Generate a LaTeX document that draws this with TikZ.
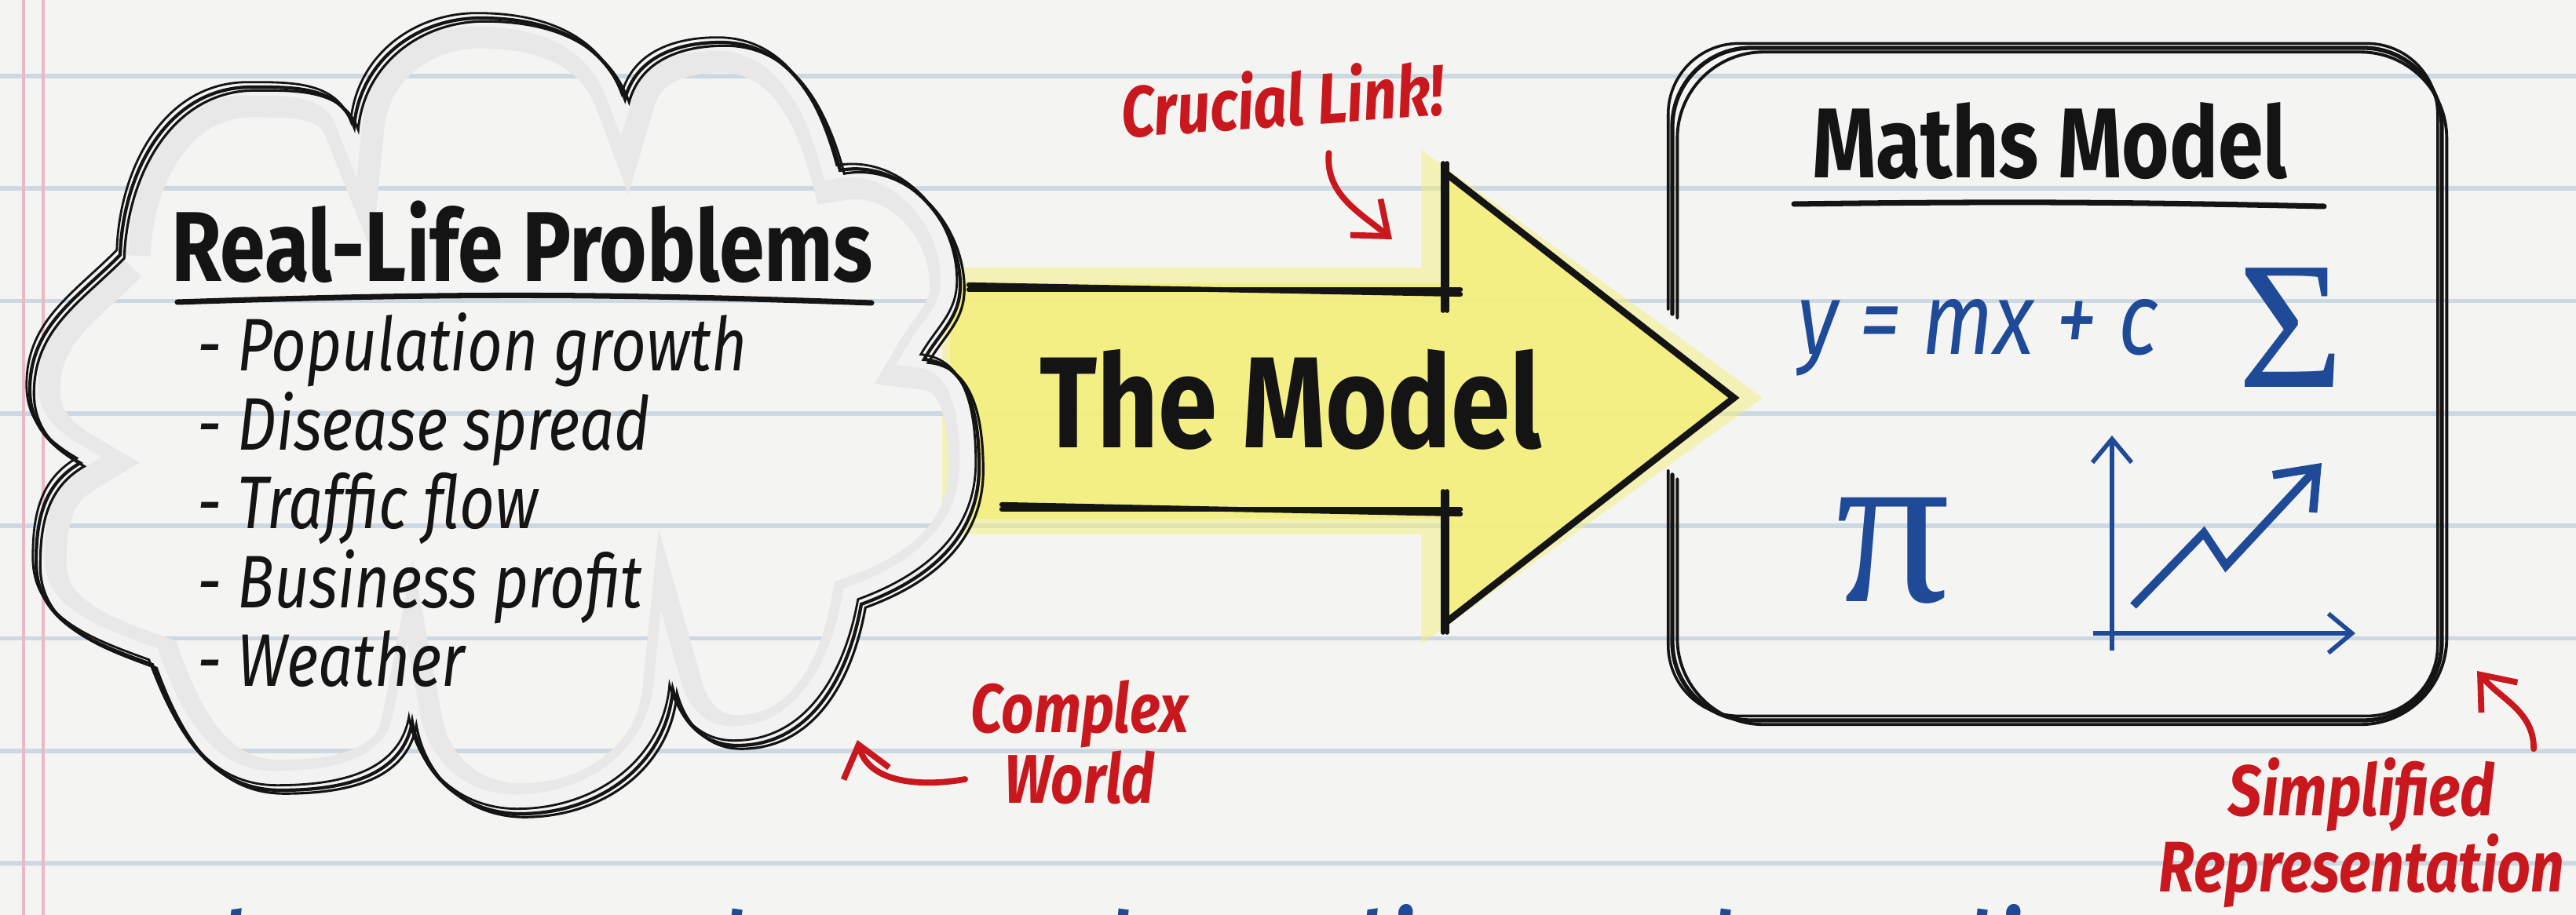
\documentclass[tikz,border=0pt]{standalone}
\usepackage{fontspec}
\setmainfont{Fira Sans}
\newfontfamily\hand[FakeStretch=0.82]{Fira Sans}
\newfontfamily\symfont{Liberation Serif}
\usepackage{tikz}
\usetikzlibrary{arrows.meta,positioning,calc}
\definecolor{paper}{HTML}{F4F4F2}
\definecolor{rule}{HTML}{CCD8E2}
\definecolor{margin}{HTML}{EBB9C6}
\definecolor{ink}{HTML}{141414}
\definecolor{mred}{HTML}{C9171E}
\definecolor{mblue}{HTML}{1E4A98}
\definecolor{marker}{HTML}{F3EF7C}
\newcommand{\cloudpath}{(1.53,8.41)
  to[out=88,in=180] (3.20,10.55) to[out=0,in=110] (4.51,10.05)
  to[out=85,in=180] (6.12,11.43) to[out=0,in=110] (7.96,10.40)
  to[out=75,in=180] (9.18,11.12) to[out=0,in=105] (10.70,9.49)
  to[out=10,in=90] (12.23,8.02) to[out=-90,in=60] (11.77,7.08)
  to[out=-5,in=90] (12.47,5.70) to[out=-90,in=20] (10.97,3.96)
  to[out=-100,in=0] (9.39,2.16) to[out=180,in=-75] (8.57,2.87)
  to[out=-95,in=0] (6.63,1.29) to[out=180,in=-80] (5.25,2.46)
  to[out=-100,in=0] (3.57,1.59) to[out=180,in=-70] (1.94,3.19)
  to[out=160,in=-90] (0.46,4.49) to[out=90,in=210] (1.02,5.76)
  to[out=150,in=-90] (0.38,6.69) to[out=90,in=225] (1.53,8.41)}
\newcommand{\boxpath}{(21.30,7.66) |- (31.10,11.05) |- (21.30,2.48) -- (21.30,5.61)}

\begin{document}
\begin{tikzpicture}[
  ruled/.style={line width=1.6pt,rule},
  sketch/.style={line width=1.2pt,ink,line cap=round},
  heading/.style={font=\hand\bfseries\fontsize{36}{40}\selectfont,text=ink},
  item/.style={font=\hand\itshape\fontsize{27}{30}\selectfont,text=ink,anchor=west,
    inner sep=0pt,text height=0.66cm,text depth=0.2cm},
  note/.style={font=\hand\bfseries\itshape\fontsize{26}{26}\selectfont,text=mred,align=center},
  pointer/.style={mred,line width=2.2pt,line cap=round,-{Straight Barb[length=3.8mm,width=6mm]}},
  maths/.style={text=mblue,inner sep=0pt},
  axis/.style={mblue,line width=1.6pt,-{Straight Barb[length=3mm,width=5mm]}}
]
\useasboundingbox (0,0) rectangle (32.81,11.66);
\clip (0,0) rectangle (32.81,11.66);
\fill[paper] (0,0) rectangle (32.81,11.66);

% ruled sheet
\foreach \k in {0,...,7}
  \draw[ruled] (0,{10.69-1.433*\k}) -- (32.81,{10.69-1.433*\k});
\draw[margin,line width=1.2pt] (0.30,0) -- (0.30,11.66);
\draw[margin,line width=1.2pt] (0.55,0) -- (0.55,11.66);

% highlighter arrow
\coordinate (shaftTL) at (12.34,7.97);
\coordinate (shaftBL) at (12.76,5.17);
\coordinate (backT) at (18.38,9.46);
\coordinate (backB) at (18.38,3.72);
\coordinate (tip) at (22.06,6.59);
\fill[marker,opacity=0.5] (12.0,8.25) -- (18.1,8.25) -- (18.1,9.75) -- (22.45,6.59)
  -- (18.1,3.45) -- (18.1,4.85) -- (12.0,4.85) -- cycle;
\fill[marker,opacity=0.85] (12.1,8.05) -- (18.38,8.05) -- (backT) -- (tip)
  -- (backB) -- (18.38,5.05) -- (12.1,5.05) -- cycle;

% cloud with its grey shadow
\begin{scope}
  \clip \cloudpath;
  \draw[line width=22pt,black!9] \cloudpath;
  \draw[line width=10pt,black!5,xshift=-2pt,yshift=2pt] \cloudpath;
\end{scope}
\draw[sketch] \cloudpath;
\draw[sketch,line width=0.9pt,xshift=1.5pt,yshift=-1.2pt] \cloudpath;
\draw[sketch,line width=0.8pt,xshift=-1.2pt,yshift=1.8pt] \cloudpath;

% arrow outline, doubled strokes
\foreach \dy in {0,0.06}{
  \draw[sketch,line width=1.8pt] ($(shaftTL)+(0,\dy)$) -- ($(18.60,7.97)+(0,-\dy)$);
  \draw[sketch,line width=1.8pt] ($(shaftBL)+(0,\dy)$) -- ($(18.60,5.17)+(0,-\dy)$);
}
\foreach \dx in {0,0.05}{
  \draw[sketch,line width=1.6pt] ($(backT)+(\dx,0.12)$) -- ($(18.38,7.70)+(\dx,0)$);
  \draw[sketch,line width=1.6pt] ($(backB)+(\dx,-0.12)$) -- ($(18.38,5.40)+(\dx,0)$);
  \draw[sketch,line width=1.6pt] ($(backT)+(\dx,0)$) -- ($(tip)+(\dx,0)$) -- ($(backB)+(\dx,0)$);
}

% maths box
\draw[sketch,line width=1.5pt,rounded corners=1cm] \boxpath;
\draw[sketch,line width=1.1pt,rounded corners=1.1cm,xshift=1.8pt,yshift=-1.5pt] \boxpath;
\draw[sketch,line width=1pt,rounded corners=0.9cm,xshift=-1.5pt,yshift=1.6pt] \boxpath;

% cloud text
\node[heading] (rl) at (6.65,8.58) {Real-Life Problems};
\draw[sketch,line width=2pt] (2.26,7.81) to[bend left=2] (11.10,7.80);
\node[item] (pop) at (2.51,7.16) {- Population growth};
\node[item,below=0.13cm of pop.south west,anchor=north west] (dis) {- Disease spread};
\node[item,below=0.13cm of dis.south west,anchor=north west] (tra) {- Traffic flow};
\node[item,below=0.13cm of tra.south west,anchor=north west] (bus) {- Business profit};
\node[item,below=0.13cm of bus.south west,anchor=north west] (wea) {- Weather};

\node[font=\hand\bfseries\fontsize{47}{50}\selectfont,text=ink] (model) at (16.44,6.57) {The Model};

% box content
\node[heading] (mm) at (26.11,9.86) {Maths Model};
\draw[sketch,line width=2pt] (22.85,9.06) to[bend left=1] (29.60,9.03);
\node[maths,font=\hand\itshape\fontsize{37}{40}\selectfont] (eq) at (25.19,7.36) {y = mx + c};
\node[maths,font=\symfont\fontsize{66}{68}\selectfont] (sig) at (29.18,7.48) {Σ};
\node[maths,font=\symfont\fontsize{82}{84}\selectfont] (pi) at (24.11,4.64) {π};
\coordinate (yaxis) at (26.90,3.37);
\coordinate (xaxis) at (26.66,3.59);
\draw[axis] (yaxis) -- (26.90,6.11);
\draw[axis] (xaxis) -- (30.00,3.59);
\draw[mblue,line width=3pt,line join=miter,-{Straight Barb[length=4.5mm,width=7mm]}]
  (27.17,3.94) -- (28.07,4.87) -- (28.35,4.45) -- (29.57,5.76);

% red remarks
\node[note,rotate=4] (link) at (16.33,10.41) {Crucial Link!};
\coordinate (headtop) at (17.73,8.61);
\draw[pointer] ([xshift=5.6mm,yshift=-2mm]link.south) to[out=-95,in=140] (headtop);

\node[note,font=\hand\bfseries\itshape\fontsize{25}{24}\selectfont] (cplx) at (13.75,2.20) {Complex\\World};
\coordinate (cloudedge) at (10.92,2.23);
\draw[pointer] ([xshift=0.5mm,yshift=-4.7mm]cplx.west) to[out=190,in=-75] (cloudedge);

\node[note,anchor=south,inner sep=0pt,font=\hand\bfseries\itshape\fontsize{26}{26}\selectfont] (simp)
  at (30.08,0.08) {Simplified\\Representation};
\coordinate (boxcorner) at (31.55,3.11);
\draw[pointer] ([xshift=-4mm,yshift=1mm]simp.north east) to[out=90,in=-50] (boxcorner);

% caption running off the sheet
\node[anchor=base west,inner sep=0pt,text=mblue,font=\hand\itshape\fontsize{50}{54}\selectfont] (motto)
  at (1.0,-1.24) {Helps us Understand Reality and Predict};
\end{tikzpicture}
\end{document}
